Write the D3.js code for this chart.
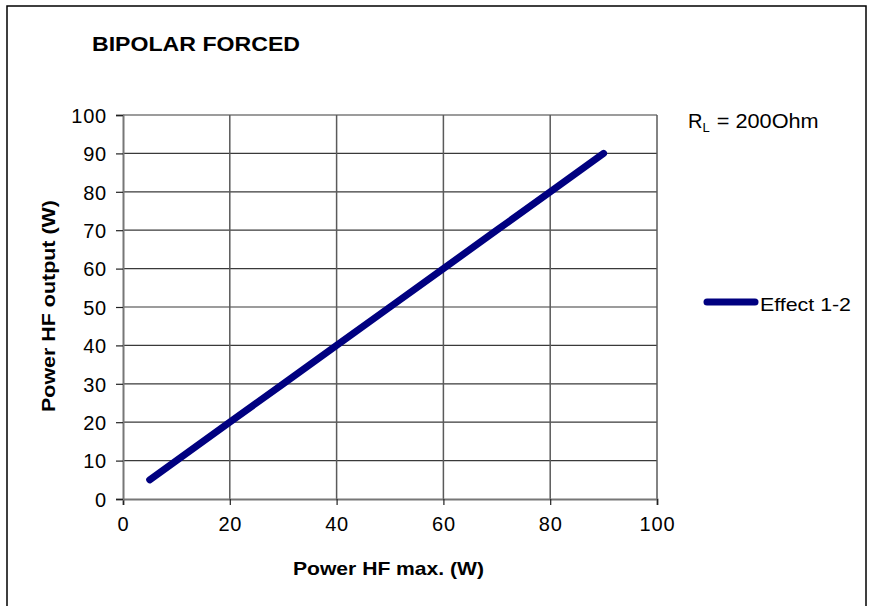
<!DOCTYPE html>
<html>
<head>
<meta charset="utf-8">
<script src="https://cdn.jsdelivr.net/npm/d3@7"></script>
<style>
  html, body { margin: 0; padding: 0; background: #fff; }
  svg { display: block; font-family: "Liberation Sans", Arial, sans-serif; }
</style>
</head>
<body>
<svg id="chart" width="870" height="606"></svg>
<script>
// ---- data ----
const title = "BIPOLAR FORCED";
const seriesName = "Effect 1-2";
const xValues = [5, 10, 20, 30, 40, 50, 60, 70, 80, 90];
const yValues = [5, 10, 20, 30, 40, 50, 60, 70, 80, 90];
const xTicks = [0, 20, 40, 60, 80, 100];
const yTicks = [0, 10, 20, 30, 40, 50, 60, 70, 80, 90, 100];
const xLabel = "Power HF max. (W)";
const yLabel = "Power HF output (W)";

const svg = d3.select("#chart");

// outer frame
svg.append("rect")
  .attr("x", 7).attr("y", 6).attr("width", 859).attr("height", 610)
  .attr("fill", "#fff").attr("stroke", "#000").attr("stroke-width", 1.5);

const x = d3.scaleLinear().domain([0, 100]).range([123, 657]);
const y = d3.scaleLinear().domain([0, 100]).range([499, 115]);

// gridlines
const g = svg.append("g");
g.selectAll("line.hg").data(yTicks.filter(d => d > 0)).enter().append("line")
  .attr("x1", x(0)).attr("x2", x(100))
  .attr("y1", d => y(d)).attr("y2", d => y(d))
  .attr("stroke", "#3a3a3a").attr("stroke-width", 1.2);
g.selectAll("line.vg").data(xTicks.filter(d => d > 0)).enter().append("line")
  .attr("y1", y(0)).attr("y2", y(100))
  .attr("x1", d => x(d)).attr("x2", d => x(d))
  .attr("stroke", "#5a5a5a").attr("stroke-width", 1.5);

// axes
const xAxis = d3.axisBottom(x).tickValues(xTicks).tickSize(6).tickPadding(12);
const yAxis = d3.axisLeft(y).tickValues(yTicks).tickSize(7).tickPadding(9);

const gx = svg.append("g").attr("transform", `translate(0,${y(0)})`).call(xAxis);
const gy = svg.append("g").attr("transform", `translate(${x(0)},0)`).call(yAxis);

[gx, gy].forEach(a => {
  a.select(".domain").attr("stroke", "#777").attr("stroke-width", 2);
  a.selectAll(".tick line").attr("stroke", "#222").attr("stroke-width", 1.2);
  a.selectAll(".tick text").attr("fill", "#000")
    .style("font-family", "'Liberation Sans', Arial, sans-serif")
    .style("font-size", "20px")
    .style("letter-spacing", "0.8px");
});
gx.selectAll(".tick text").attr("dy", "0.71em");
gy.selectAll(".tick text").attr("dy", "0.36em");

// series line
const line = d3.line().x((d, i) => x(xValues[i])).y((d, i) => y(yValues[i]));
svg.append("path")
  .datum(xValues)
  .attr("d", line)
  .attr("fill", "none")
  .attr("stroke", "#000080")
  .attr("stroke-width", 7)
  .attr("stroke-linecap", "round")
  .attr("stroke-linejoin", "round");

// title
svg.append("text")
  .attr("x", 92).attr("y", 51)
  .attr("font-size", 21).attr("font-weight", "bold")
  .attr("textLength", 208).attr("lengthAdjust", "spacingAndGlyphs")
  .text(title);

// axis labels
svg.append("text")
  .attr("x", 293).attr("y", 575)
  .attr("font-size", 19).attr("font-weight", "bold")
  .attr("textLength", 191).attr("lengthAdjust", "spacingAndGlyphs")
  .text(xLabel);

svg.append("text")
  .attr("transform", "translate(55,412) rotate(-90)")
  .attr("x", 0).attr("y", 0)
  .attr("font-size", 19).attr("font-weight", "bold")
  .attr("textLength", 212).attr("lengthAdjust", "spacingAndGlyphs")
  .text(yLabel);

// annotation R_L
const ann = svg.append("text").attr("x", 688).attr("y", 128).attr("font-size", 20);
ann.append("tspan").text("R");
ann.append("tspan").attr("font-size", 13).attr("dy", 4).text("L");
ann.append("tspan").attr("dy", -4).attr("dx", 1).text(" = 200Ohm")
  .attr("textLength", 108).attr("lengthAdjust", "spacingAndGlyphs");

// legend
svg.append("line")
  .attr("x1", 707).attr("x2", 755).attr("y1", 302).attr("y2", 302)
  .attr("stroke", "#000080").attr("stroke-width", 7).attr("stroke-linecap", "round");
svg.append("text")
  .attr("x", 760).attr("y", 311)
  .attr("font-size", 19)
  .attr("textLength", 91).attr("lengthAdjust", "spacingAndGlyphs")
  .text(seriesName);
</script>
</body>
</html>
